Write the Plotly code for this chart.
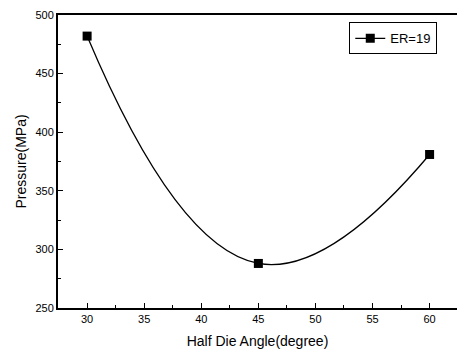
import plotly.graph_objects as go

angles = [30, 45, 60]
pressure = [482, 288, 381]
series_name = "ER=19"
x_ticks = [30, 35, 40, 45, 50, 55, 60]
y_ticks = [250, 300, 350, 400, 450, 500]

fig = go.Figure()
fig.add_trace(go.Scatter(
    x=angles, y=pressure, name=series_name,
    mode="lines+markers",
    line=dict(color="black", width=1.3, shape="spline", smoothing=1.3),
    marker=dict(symbol="square", size=9, color="black"),
))

font = "Liberation Sans, Arial, sans-serif"
fig.update_layout(
    width=457, height=352,
    margin=dict(l=58, r=0, t=15, b=44),
    paper_bgcolor="white", plot_bgcolor="white",
    font=dict(family=font, color="black", size=11),
    showlegend=True,
    legend=dict(x=0.73, y=0.975, xanchor="left", yanchor="top",
                bordercolor="black", borderwidth=1, bgcolor="white",
                font=dict(size=13), itemwidth=30,
                tracegroupgap=0),
    xaxis=dict(
        range=[27.45, 62.4], tickvals=x_ticks,
        ticks="inside", ticklen=5, tickwidth=1.2, tickcolor="black",
        minor=dict(ticks="inside", ticklen=3, dtick=2.5, tickcolor="black"),
        showline=True, linewidth=2, linecolor="black", mirror=True,
        showgrid=False, zeroline=False,
        title=dict(text="Half Die Angle(degree)", font=dict(size=14), standoff=12),
    ),
    yaxis=dict(
        range=[250, 500], tickvals=y_ticks,
        ticks="inside", ticklen=5, tickwidth=1.2, tickcolor="black",
        minor=dict(ticks="inside", ticklen=3, dtick=25, tickcolor="black"),
        showline=True, linewidth=2, linecolor="black", mirror=False,
        showgrid=False, zeroline=False,
        title=dict(text="Pressure(MPa)", font=dict(size=14), standoff=6),
    ),
)
fig.write_html("out.html")
